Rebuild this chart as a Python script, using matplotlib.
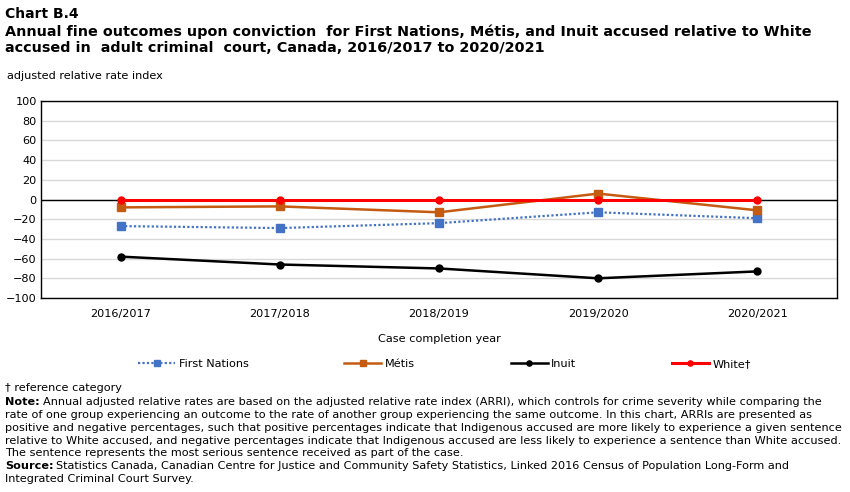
import numpy as np
import matplotlib.pyplot as plt

years = ['2016/2017', '2017/2018', '2018/2019', '2019/2020', '2020/2021']
first_nations = [-27, -29, -24, -13, -19]
metis = [-8, -7, -13, 6, -11]
inuit = [-58, -66, -70, -80, -73]
white = [0, 0, 0, 0, 0]
yticks = list(range(-100, 101, 20))

plt.rcParams['font.family'] = ['DejaVu Sans']
fs = 8.1

fig = plt.figure(figsize=(8.5, 4.92), dpi=100)
fig.set_facecolor('w')
ax = fig.add_axes([41/850, 1-298/492, 796/850, 197/492])

x = np.arange(len(years))
ax.plot(x, first_nations, color='#4472C4', linestyle=(0, (1, 1)), lw=1.6,
        marker='s', ms=5.5, label='First Nations')
ax.plot(x, metis, color='#C55A11', lw=1.8, marker='s', ms=5.5, label='Métis')
ax.plot(x, inuit, color='black', lw=1.8, marker='o', ms=5, label='Inuit')
ax.plot(x, white, color='red', lw=2.2, marker='o', ms=5, label='White†')

ax.axhline(0, color='black', lw=1, zorder=1)
ax.set_xlim(-0.5, len(years) - 0.5)
ax.set_ylim(-100, 100)
ax.set_yticks(yticks)
ax.set_xticks(x)
ax.set_xticklabels(years)
ax.tick_params(axis='both', length=0, labelsize=fs, pad=8)
ax.tick_params(axis='y', pad=3)
ax.grid(axis='y', color='#D9D9D9', lw=1)
ax.set_axisbelow(True)
for s in ax.spines.values():
    s.set_linewidth(1)
    s.set_color('black')
ax.set_xlabel('Case completion year', fontsize=fs, labelpad=11)

fig.legend(loc='center', bbox_to_anchor=(0.523, 1-364/492), ncol=4, frameon=False,
           fontsize=fs, handlelength=3.3, columnspacing=8.5, handletextpad=0.3,
           markerscale=0.75)

fig.text(5/850, 1-14/492, 'Chart B.4', fontsize=10, fontweight='bold', va='center')
fig.text(5/850, 1-32/492, 'Annual fine outcomes upon conviction  for First Nations, Métis, and Inuit accused relative to White',
         fontsize=10.4, fontweight='bold', va='center')
fig.text(5/850, 1-48/492, 'accused in  adult criminal  court, Canada, 2016/2017 to 2020/2021',
         fontsize=10.4, fontweight='bold', va='center')
fig.text(7/850, 1-76/492, 'adjusted relative rate index', fontsize=fs, va='center')

renderer = fig.canvas.get_renderer()
nfs = 8.1
def label_line(y, bold, rest):
    xpos = 5/850
    if bold:
        t = fig.text(xpos, 1-y/492, bold, fontsize=nfs, fontweight='bold', va='center')
        bb = t.get_window_extent(renderer)
        xpos = (bb.x1 + 3) / 850
    fig.text(xpos, 1-y/492, rest, fontsize=nfs, va='center')

label_line(388, None, '† reference category')
label_line(402, 'Note:', 'Annual adjusted relative rates are based on the adjusted relative rate index (ARRI), which controls for crime severity while comparing the')
label_line(415, None, 'rate of one group experiencing an outcome to the rate of another group experiencing the same outcome. In this chart, ARRIs are presented as')
label_line(428, None, 'positive and negative percentages, such that positive percentages indicate that Indigenous accused are more likely to experience a given sentence')
label_line(441, None, 'relative to White accused, and negative percentages indicate that Indigenous accused are less likely to experience a sentence than White accused.')
label_line(453, None, 'The sentence represents the most serious sentence received as part of the case.')
label_line(466, 'Source:', 'Statistics Canada, Canadian Centre for Justice and Community Safety Statistics, Linked 2016 Census of Population Long-Form and')
label_line(479, None, 'Integrated Criminal Court Survey.')

fig.savefig('out.png', dpi=100)
